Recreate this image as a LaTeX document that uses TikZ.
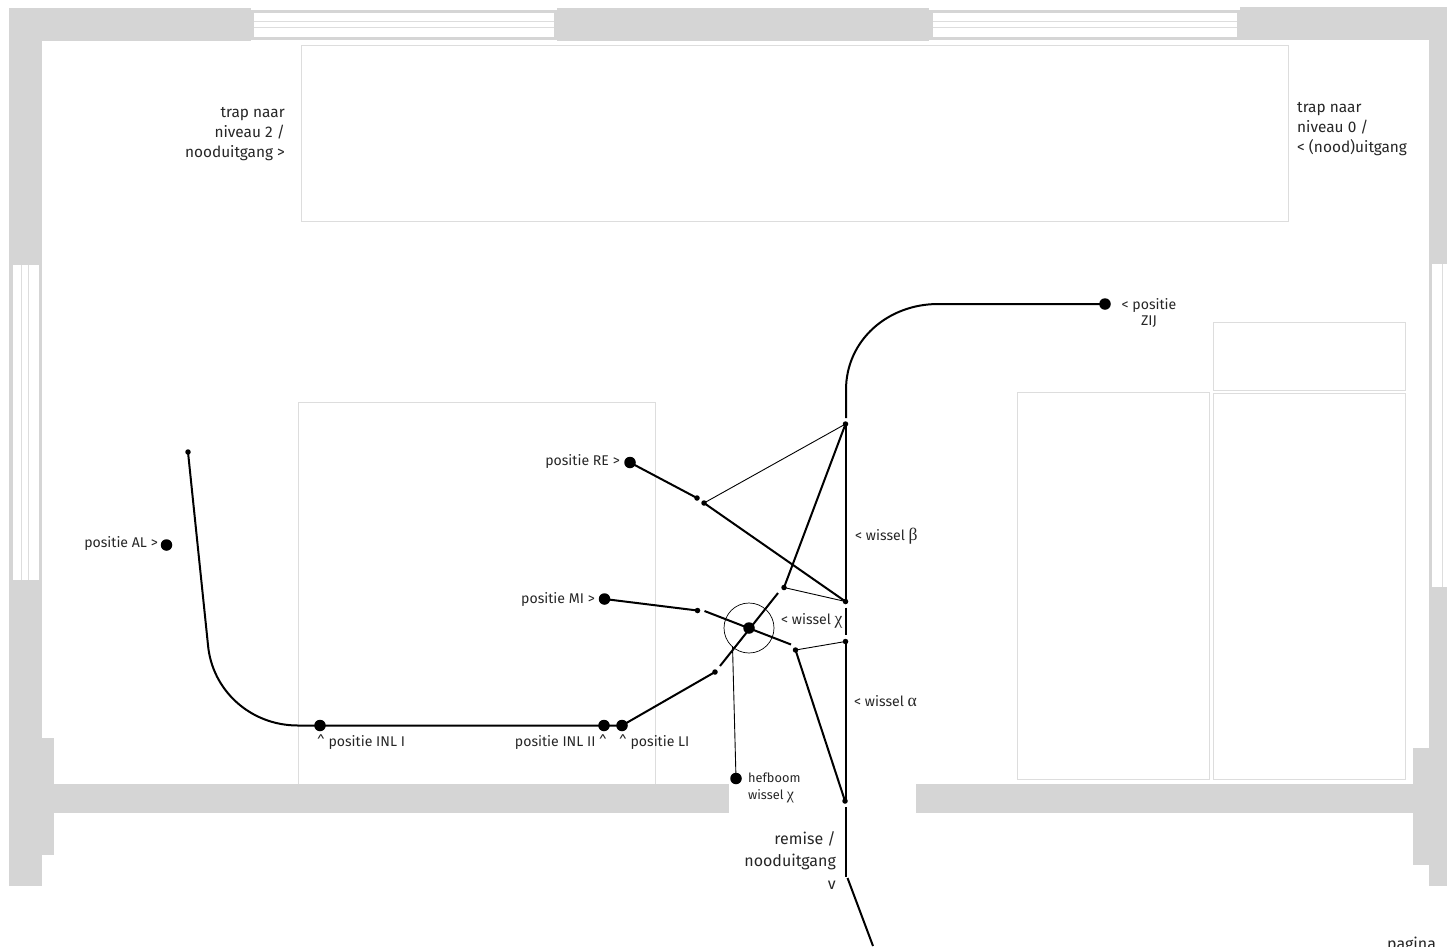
\documentclass[tikz,border=0pt]{standalone}
\usepackage{fontspec}
\setmainfont{Fira Sans}
\newfontfamily\grk[Scale=1.25]{Liberation Serif}
\newcommand{\gk}[1]{{\grk #1}}
\definecolor{wall}{HTML}{D5D5D5}
\definecolor{fur}{HTML}{DDDDDD}
\tikzset{
  wallfill/.style={fill=wall,draw=none},
  winline/.style={draw=fur,line width=0.8pt},
  furn/.style={draw=fur,line width=0.9pt,fill=none},
  track/.style={draw=black,line width=2pt},
  rod/.style={draw=black,line width=0.9pt},
  bigdot/.style={circle,fill=black,inner sep=0pt,minimum size=11.5pt},
  smalldot/.style={circle,fill=black,inner sep=0pt,minimum size=5.5pt},
  lab/.style={font=\fontsize{14.1}{20}\selectfont,text=black!85,inner sep=0pt},
  labr/.style={lab,anchor=east,align=right},
  labl/.style={lab,anchor=west,align=left},
  labbig/.style={font=\fontsize{15.4}{20}\selectfont},
}
\begin{document}
\begin{tikzpicture}[x=1pt,y=-1pt]
\useasboundingbox (0,0) rectangle (1447,946);
\clip (0,0) rectangle (1447,946);
% walls
\fill[wallfill] (9,8) rectangle (251,41);
\fill[wallfill] (251,10) rectangle (557,40);
\fill[wallfill] (557,8) rectangle (929,41);
\fill[wallfill] (929,10) rectangle (1240,40);
\fill[wallfill] (1240,7) rectangle (1447,40);
\fill[wallfill] (9,8) rectangle (42,886);
\fill[wallfill] (1429,7) rectangle (1447,886);
\fill[wallfill] (42,738) rectangle (54,855);
\fill[wallfill] (1413,748) rectangle (1429,865);
\fill[wallfill] (54,784) rectangle (729,813);
\fill[wallfill] (916,784) rectangle (1413,813);
% windows
\fill[white] (254,13) rectangle (554,37);
\draw[winline] (254,21) -- (554,21);
\draw[winline] (254,27) -- (554,27);
\fill[white] (932.5,13) rectangle (1237,37);
\draw[winline] (932.5,21) -- (1237,21);
\draw[winline] (932.5,27) -- (1237,27);
\fill[white] (12.5,265) rectangle (38.5,580);
\draw[winline] (21.5,265) -- (21.5,580);
\draw[winline] (28.5,265) -- (28.5,580);
\fill[white] (1432,264) rectangle (1447,587);
\draw[winline] (1442.5,264) -- (1442.5,587);
% furniture
\draw[furn] (301,45) rectangle (1288.5,221);
\draw[furn] (298,784) -- (298,402.5) -- (655.5,402.5) -- (655.5,784);
\draw[furn] (1017,392.5) rectangle (1209.5,779.5);
\draw[furn] (1213.5,393) rectangle (1405.5,779.5);
\draw[furn] (1213.5,322) rectangle (1405.5,390.5);
% dots
\node[smalldot] (al0) at (188,452) {};
\node[bigdot] (al) at (166.5,545) {};
\node[bigdot] (inl1) at (320,725.5) {};
\node[bigdot] (inl2) at (604,725.5) {};
\node[bigdot] (li) at (622,725.5) {};
\node[smalldot] (li2) at (715,672) {};
\node[bigdot] (mi) at (604.5,599) {};
\node[smalldot] (mi2) at (697.5,610.5) {};
\node[bigdot] (re) at (630,462.5) {};
\node[smalldot] (re2) at (697,498) {};
\node[smalldot] (b1) at (704,503) {};
\node[smalldot] (b2) at (845.5,424) {};
\node[smalldot] (b3) at (845.5,601.5) {};
\node[smalldot] (b4) at (784,587.5) {};
\node[smalldot] (a1) at (795.5,650) {};
\node[smalldot] (a2) at (845.5,641.5) {};
\node[smalldot] (a3) at (845,801) {};
\node[bigdot] (chi) at (749,628) {};
\node[bigdot] (hef) at (736,778.5) {};
\node[bigdot] (zij) at (1105,304) {};
\node[circle,draw=black,line width=0.7pt,inner sep=0pt,minimum size=50pt] (ring) at (749,628) {};
% free ends
\coordinate (ls) at (208,645);
\coordinate (le) at (298,725.5);
\coordinate (c1) at (720,666);
\coordinate (c2) at (778,593);
\coordinate (d1) at (704.5,611);
\coordinate (d2) at (791,644.5);
\coordinate (v0) at (846,418);
\coordinate (v1) at (846,390);
\coordinate (v2) at (938,304);
\coordinate (v3) at (846,424);
\coordinate (v4) at (846,601);
\coordinate (v5) at (846,607.5);
\coordinate (v6) at (846,635);
\coordinate (v7) at (846,641);
\coordinate (v8) at (846,800);
\coordinate (v9) at (846,807);
\coordinate (v10) at (846,877);
\coordinate (v11) at (847.5,878);
\coordinate (v12) at (873,946);
\coordinate (h0) at (732.5,646);
% tracks
\draw[track] (al0.center) -- (ls) .. controls (212,690) and (250,725.5) .. (le) -- (inl2.center);
\draw[track] (inl2.center) -- (li.center) -- (li2.center);
\draw[track] (c1) -- (c2);
\draw[track] (mi.center) -- (mi2.center);
\draw[track] (d1) -- (d2);
\draw[track] (re.center) -- (re2.center);
\draw[track] (b1.center) -- (b3.center);
\draw[track] (b2.center) -- (b4.center);
\draw[track] (a1.center) -- (a3.center);
\draw[track] (zij.center) -- (v2) .. controls (888,304) and (846,340) .. (v1) -- (v0);
\draw[track] (v3) -- (v4);
\draw[track] (v5) -- (v6);
\draw[track] (v7) -- (v8);
\draw[track] (v9) -- (v10);
\draw[track] (v11) -- (v12);
\draw[rod] (b1.center) -- (b2.center);
\draw[rod] (b4.center) -- (b3.center);
\draw[rod] (a1.center) -- (a2.center);
\draw[rod] (h0) -- (hef.center);
% labels
\node[labr,labbig] (t1) at (285,134) {trap naar\\niveau 2 /\\nooduitgang >};
\node[labl,labbig] (t2) at (1297,129) {trap naar\\niveau 0 /\\< (nood)uitgang};
\node[labr] (t3) at (158,543.5) {positie AL >};
\node[labr] (t4) at (620,461.5) {positie RE >};
\node[labr] (t5) at (595,599) {positie MI >};
\node[labl] (t6) at (317,742) {\^{} positie INL I};
\node[labr] (t7) at (607,742) {positie INL II \^{}};
\node[labl] (t8) at (619,742) {\^{} positie LI};
\node[lab,align=center] (t9) at (1149,312.5) {< positie\\[-4pt]ZIJ};
\node[labl] (t10) at (855,536.5) {< wissel \gk{β}};
\node[labl] (t11) at (781,621) {< wissel \gk{χ}};
\node[labl] (t12) at (854,701) {< wissel \gk{α}};
\node[labl,font=\fontsize{12.8}{17}\selectfont] (t13) at (748,788) {hefboom\\wissel \gk{χ}};
\node[labr,font=\fontsize{16}{22.5}\selectfont] (t14) at (836,860.5) {remise /\\nooduitgang\\v};
\node[labl,font=\fontsize{16}{20}\selectfont,anchor=base west] (t15) at (1387,949) {pagina};
\end{tikzpicture}
\end{document}
